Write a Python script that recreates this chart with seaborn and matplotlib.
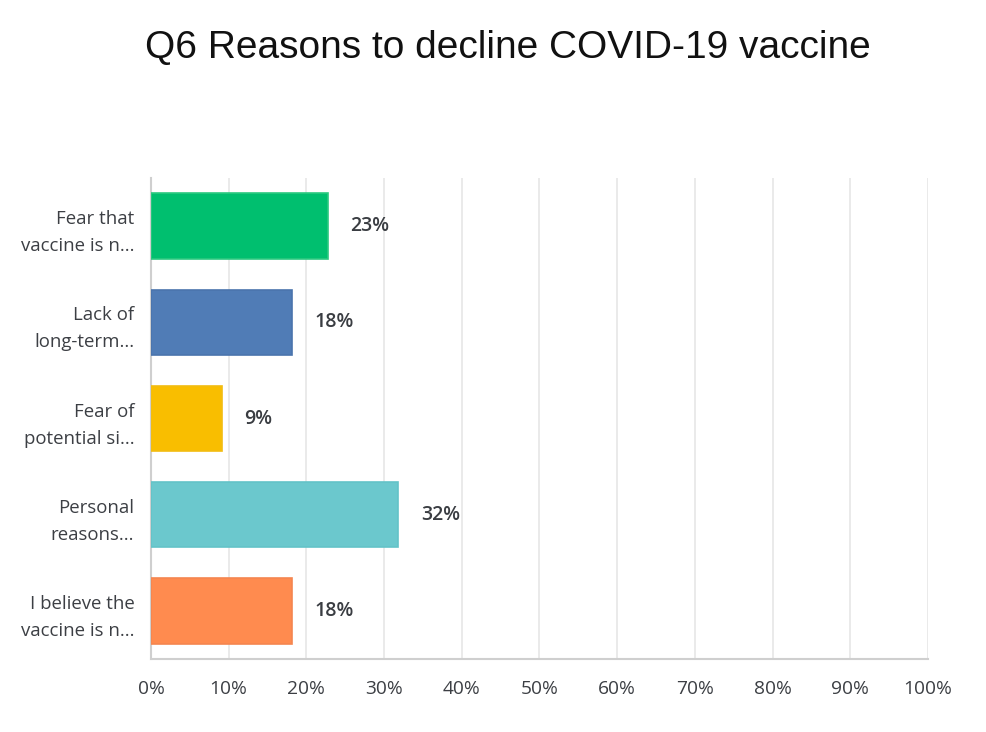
import numpy as np
import pandas as pd
import matplotlib
matplotlib.use("Agg")
import matplotlib.pyplot as plt
import seaborn as sns
from matplotlib.ticker import FuncFormatter

# answer choices (as truncated in the survey export) and share of responses
categories = [
    "Fear that\nvaccine is n...",
    "Lack of\nlong-term...",
    "Fear of\npotential si...",
    "Personal\nreasons...",
    "I believe the\nvaccine is n...",
]
shares = [22.73, 18.18, 9.09, 31.82, 18.18]
value_labels = ["23%", "18%", "9%", "32%", "18%"]
colors = ["#00BF6F", "#507CB6", "#F9BE00", "#6BC8CD", "#FF8B4F"]
edge_colors = ["#2CC980", "#4A74AD", "#F2BC12", "#63C3C8", "#F58650"]
x_ticks = list(range(0, 101, 10))

df = pd.DataFrame({"answer": categories, "share": shares})

sns.set_style("white")
plt.rcParams["font.family"] = ["Open Sans", "DejaVu Sans"]

fig = plt.figure(figsize=(9.86, 7.32), dpi=100)
ax = fig.add_axes([0.1531, 0.0997, 0.7881, 0.6571])

sns.barplot(data=df, x="share", y="answer", hue="answer", palette=colors,
            saturation=1, legend=False, width=0.68, ax=ax, zorder=3)
for patch, ec in zip(ax.patches, edge_colors):
    patch.set_edgecolor(ec)
    patch.set_linewidth(1.2)

for i, (v, lab) in enumerate(zip(shares, value_labels)):
    ax.text(v + 2.9, i, lab, va="center", ha="left", fontsize=14,
            fontweight="semibold", color="#3a3d42")

ax.set_xlim(0, 100)
ax.set_ylim(4.5, -0.5)
ax.set_xticks(x_ticks)
ax.xaxis.set_major_formatter(FuncFormatter(lambda v, p: f"{int(v)}%"))
ax.grid(axis="x", color="#e6e6e6", linewidth=1.2, zorder=0)
ax.grid(axis="y", visible=False)
ax.set_xlabel("")
ax.set_ylabel("")
ax.tick_params(axis="x", labelsize=13.8, colors="#3c3f44", length=0, pad=15)
ax.tick_params(axis="y", labelsize=13.4, colors="#3c3f44", length=0, pad=12)
for lab in ax.get_yticklabels():
    lab.set_horizontalalignment("right")
    lab.set_multialignment("right")
    lab.set_linespacing(1.65)

for side in ["top", "right"]:
    ax.spines[side].set_visible(False)
for side in ["left", "bottom"]:
    ax.spines[side].set_color("#cfcfcf")
    ax.spines[side].set_linewidth(1.5)

fig.text(0.515, 0.935, "Q6 Reasons to decline COVID-19 vaccine", ha="center",
         va="center", fontsize=28, color="#111111",
         family=["Liberation Sans", "DejaVu Sans"])

fig.savefig("out.png", dpi=100, facecolor="white")
